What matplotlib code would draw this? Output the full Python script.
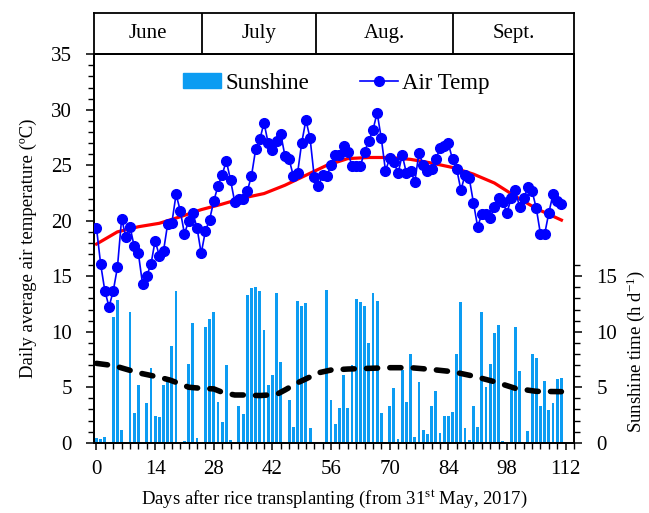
import numpy as np
import matplotlib
matplotlib.use("Agg")
import matplotlib.pyplot as plt
from matplotlib.ticker import MultipleLocator, FixedLocator
from matplotlib.lines import Line2D
from matplotlib.patches import Patch

plt.rcParams["font.family"] = "Liberation Serif"
plt.rcParams["mathtext.fontset"] = "custom"
plt.rcParams["mathtext.rm"] = "Liberation Serif"
plt.rcParams["mathtext.it"] = "Liberation Serif:italic"

# ── Daily records (day 0 = 31 May 2017) ──────────────────────────
days = np.arange(112)

air_temp = [
    19.35, 16.07, 13.67, 12.25, 13.67, 15.80, 20.20, 18.56, 19.46, 17.70,
    17.06, 14.30, 15.05, 16.07, 18.20, 16.85, 17.27, 19.73, 19.82, 22.38,
    20.90, 18.83, 19.97, 20.72, 19.37, 17.06, 19.07, 20.10, 21.77, 23.13,
    24.14, 25.40, 23.67, 21.70, 21.98, 22.00, 22.68, 24.03, 26.43, 27.33,
    28.83, 26.97, 26.37, 27.20, 27.81, 25.83, 25.53, 24.03, 24.27, 27.03,
    29.07, 27.42, 23.90, 23.13, 24.12, 24.03, 25.02, 25.92, 25.92, 26.73,
    26.22, 24.93, 24.93, 24.93, 26.22, 27.18, 28.17, 29.73, 27.42, 24.50,
    25.62, 25.32, 24.27, 25.92, 24.27, 24.50, 23.51, 26.13, 25.02, 24.50,
    24.63, 25.53, 26.52, 26.73, 26.97, 25.53, 24.66, 22.77, 24.12, 23.82,
    21.62, 19.46, 20.60, 20.60, 20.22, 21.26, 22.02, 21.71, 20.72, 22.02,
    22.77, 21.26, 22.02, 23.01, 22.68, 21.12, 18.80, 18.80, 20.72, 22.41,
    21.80, 21.50,
]

sunshine = [
    0.40, 0.30, 0.55, 0.00, 11.30, 12.90, 1.15, 0.00, 11.80, 2.65,
    5.20, 0.00, 3.55, 6.70, 2.40, 2.30, 5.20, 5.55, 8.75, 13.70,
    0.00, 0.15, 7.10, 10.80, 0.40, 0.00, 10.40, 11.15, 11.80, 3.70,
    1.90, 7.00, 0.25, 0.00, 3.30, 2.60, 13.30, 13.90, 14.05, 13.70,
    10.15, 5.20, 6.10, 13.45, 7.25, 0.00, 3.85, 1.45, 12.80, 12.30,
    12.55, 1.30, 0.00, 0.00, 0.00, 13.80, 3.85, 1.70, 3.10, 6.10,
    3.10, 7.00, 12.95, 12.70, 12.30, 9.00, 13.45, 12.80, 2.70, 0.00,
    3.30, 4.90, 0.30, 6.55, 3.70, 8.00, 0.55, 5.45, 1.15, 0.80,
    3.30, 4.70, 0.90, 2.45, 2.45, 2.80, 8.00, 12.70, 1.30, 0.25,
    3.30, 1.45, 11.80, 5.00, 7.10, 9.90, 10.65, 0.15, 0.00, 4.75,
    10.40, 6.50, 0.00, 1.05, 8.00, 7.60, 3.30, 5.60, 2.95, 3.55,
    5.75, 5.85,
]

# smoothed trends
temp_trend_days = [0, 5, 10, 15, 20, 25, 30, 35, 40, 45, 50, 55, 60, 65,
                   70, 75, 80, 85, 90, 95, 100, 105, 111]
temp_trend = [17.9, 19.0, 19.46, 19.77, 20.36, 21.0, 21.5, 22.05, 22.45,
              23.2, 24.1, 25.0, 25.6, 25.7, 25.7, 25.53, 25.2, 24.8, 24.2,
              23.4, 22.2, 21.1, 20.06]

sun_trend_days = [0, 3, 5, 10, 15, 17.5, 20, 22, 25, 28, 30, 33, 35, 39,
                  43, 45, 48, 50, 53, 56, 60, 65, 70, 75, 80, 85, 90, 95,
                  100, 105, 111]
sun_trend = [7.15, 7.0, 6.85, 6.3, 5.9, 5.65, 5.3, 5.0, 4.9, 4.85, 4.55,
             4.3, 4.3, 4.25, 4.35, 4.75, 5.4, 5.75, 6.3, 6.55, 6.64, 6.7,
             6.76, 6.76, 6.6, 6.4, 6.0, 5.5, 4.9, 4.63, 4.6]

months = ["June", "July", "Aug.", "Sept."]
month_edges = [-0.6, 25.1, 52.3, 85.2, 114.0]

BAR_COLOR = "#0C9CF2"
XLIM = (-0.6, 114.0)

fig = plt.figure(figsize=(6.49, 5.13), dpi=100)
ax = fig.add_axes([0.1448, 0.137, 0.7396, 0.7572])
ax2 = ax.twinx()

# ── Sunshine bars + trend (right axis) ────────────────────────────
ax2.bar(days, sunshine, width=0.68, color=BAR_COLOR, zorder=1)
ax2.plot(sun_trend_days, sun_trend, color="black", lw=4,
         ls=(0, (2.0, 2.2)), dash_capstyle="round", zorder=3)
ax2.set_ylim(0, 35)
ax2.yaxis.set_major_locator(FixedLocator([0, 5, 10, 15]))
ax2.yaxis.set_minor_locator(FixedLocator(range(0, 17)))
ax2.tick_params(axis="y", which="major", length=6, width=1.1,
                labelsize=15, pad=10, direction="out")
ax2.tick_params(axis="y", which="minor", length=4, width=1.0,
                direction="out")
ax2.set_ylabel("Sunshine time (h d$^{\\mathregular{-1}}$)", fontsize=13.5)
ax2.yaxis.set_label_coords(1.106, 0.236)

# ── Air temperature (left axis) ───────────────────────────────────
ax.set_zorder(ax2.get_zorder() + 1)
ax.patch.set_visible(False)
ax.plot(temp_trend_days, temp_trend, color="red", lw=2.3, zorder=2)
ax.plot(days, air_temp, color="blue", lw=1.2, marker="o", ms=7,
        mfc="blue", mec="blue", zorder=3)

ax.set_xlim(*XLIM)
ax.set_ylim(0, 35)
ax.xaxis.set_major_locator(MultipleLocator(14))
ax.xaxis.set_minor_locator(MultipleLocator(2))
ax.yaxis.set_major_locator(MultipleLocator(5))
ax.yaxis.set_minor_locator(MultipleLocator(1))
ax.tick_params(axis="y", which="major", length=6, width=1.1,
               labelsize=15, pad=10, direction="out")
ax.tick_params(axis="y", which="minor", length=4, width=1.0, direction="out")
ax.tick_params(axis="x", which="major", length=5, width=1.1,
               labelsize=15, pad=7.5, direction="out")
ax.tick_params(axis="x", which="minor", length=4, width=1.0, direction="out")
ax.set_xlabel("Days after rice transplanting (from 31$^{\\mathregular{st}}$ May, 2017)",
              fontsize=13.5, labelpad=7)
ax.set_ylabel("Daily average air temperature (ºC)", fontsize=13.5,
              labelpad=10)

for a in (ax, ax2):
    for s in a.spines.values():
        s.set_linewidth(1.3)

handles = [Patch(color=BAR_COLOR, label="Sunshine"),
           Line2D([], [], color="blue", lw=1.2, marker="o", ms=7,
                  label="Air Temp")]
ax.legend(handles=handles, loc="center", bbox_to_anchor=(0.505, 0.926),
          ncol=2, frameon=False, fontsize=16.5, handlelength=1.66,
          handleheight=0.6, handletextpad=0.2, columnspacing=2.2)

# ── Month strip above the plot ────────────────────────────────────
axm = fig.add_axes([0.1448, 0.8942, 0.7396, 0.0798])
axm.set_xlim(*XLIM)
axm.set_ylim(0, 1)
axm.set_xticks([])
axm.set_yticks([])
for s in axm.spines.values():
    s.set_linewidth(1.3)
for edge in month_edges[1:-1]:
    axm.axvline(edge, color="black", lw=1.3)
for name, lo, hi in zip(months, month_edges[:-1], month_edges[1:]):
    axm.text((lo + hi) / 2, 0.5, name, ha="center", va="center", fontsize=15)

fig.savefig("out.png", dpi=100)
